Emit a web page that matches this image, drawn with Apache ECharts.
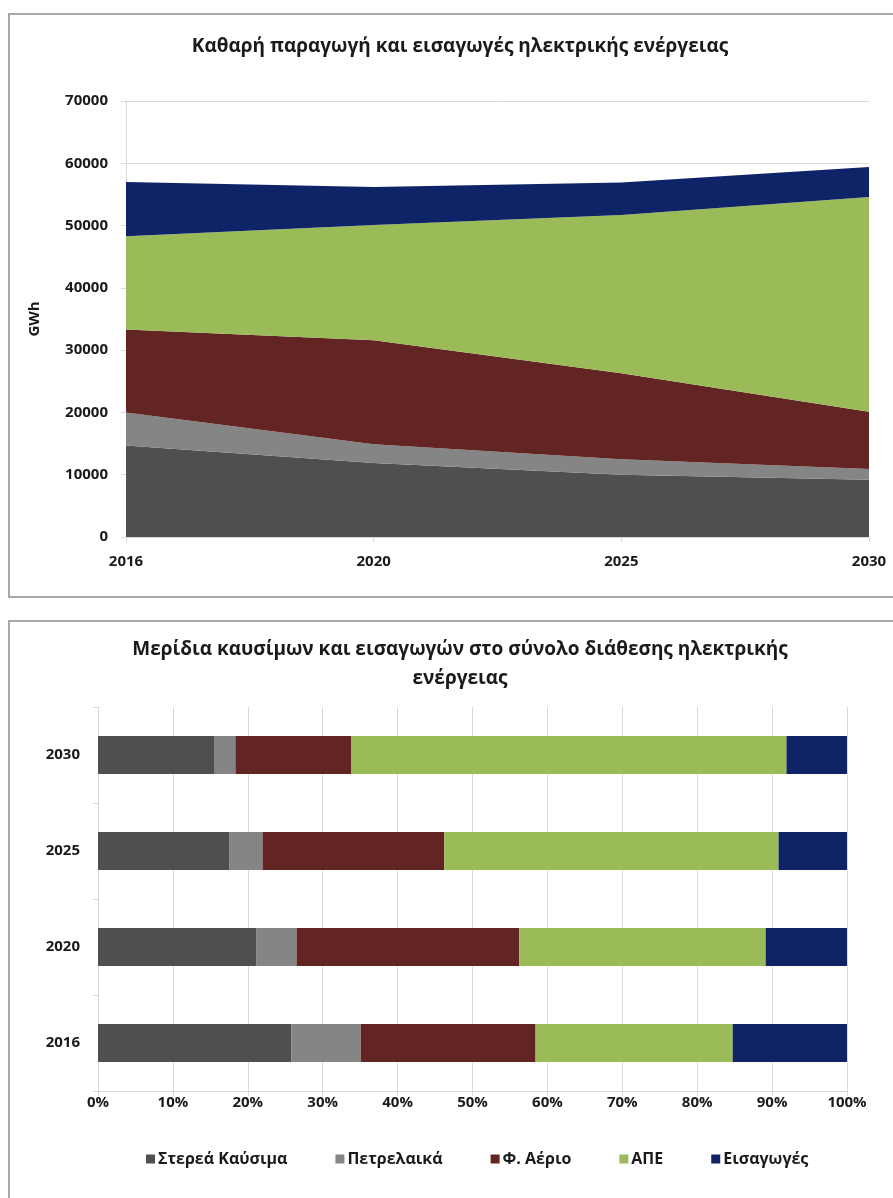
<!DOCTYPE html>
<html>
<head>
<meta charset="utf-8">
<script src="https://cdn.jsdelivr.net/npm/echarts@6/dist/echarts.min.js"></script>
<style>
    html, body { margin: 0; padding: 0; background: #fff; }
    #main { width: 893px; height: 1198px; }
</style>
</head>
<body>
<div id="main"></div>
<script>
// data (GWh)
var years = ['2016', '2020', '2025', '2030'];
var names = ['Στερεά Καύσιμα', 'Πετρελαικά', 'Φ. Αέριο', 'ΑΠΕ', 'Εισαγωγές'];
var solidFuels = [14700, 11900, 10000, 9200];
var oil = [5300, 3000, 2500, 1700];
var gas = [13300, 16700, 13800, 9200];
var renewables = [15000, 18500, 25400, 34500];
var imports = [8700, 6100, 5200, 4800];
var yTicks = [0, 10000, 20000, 30000, 40000, 50000, 60000, 70000];

var colors = ['#4f4f4f', '#858585', '#632523', '#9bbb59', '#0e2466'];
var allSeries = [solidFuels, oil, gas, renewables, imports];
var fontName = 'Open Sans';

var totals = years.map(function (y, i) {
    var s = 0;
    allSeries.forEach(function (arr) { s += arr[i]; });
    return s;
});

var chart = echarts.init(document.getElementById('main'));

var series = [];
// area chart, top
allSeries.forEach(function (arr, k) {
    series.push({
        name: names[k],
        type: 'line',
        xAxisIndex: 0,
        yAxisIndex: 0,
        stack: 'gwh',
        showSymbol: false,
        lineStyle: { width: 0 },
        areaStyle: { color: colors[k], opacity: 1 },
        itemStyle: { color: colors[k] },
        data: arr
    });
});
// 100% bar chart, bottom
allSeries.forEach(function (arr, k) {
    series.push({
        name: names[k],
        type: 'bar',
        xAxisIndex: 1,
        yAxisIndex: 1,
        stack: 'share',
        barWidth: 38,
        itemStyle: { color: colors[k] },
        data: arr.map(function (v, i) { return v / totals[i]; })
    });
});

var labelStyle = { color: '#1a1a1a', fontWeight: 'bold', fontFamily: fontName };

var option = {
    animation: false,
    backgroundColor: '#fff',
    graphic: [
        { type: 'rect', shape: { x: 9, y: 14, width: 900, height: 583 },
          style: { fill: 'none', stroke: '#a8a8a8', lineWidth: 2 } },
        { type: 'rect', shape: { x: 9, y: 621, width: 900, height: 600 },
          style: { fill: 'none', stroke: '#a8a8a8', lineWidth: 2 } }
    ],
    title: [
        {
            text: 'Καθαρή παραγωγή και εισαγωγές ηλεκτρικής ενέργειας',
            left: 455, top: 32, textAlign: 'center',
            textStyle: { fontSize: 19, fontWeight: 'bold', color: '#1a1a1a', fontFamily: fontName }
        },
        {
            text: 'Μερίδια καυσίμων και εισαγωγών στο σύνολο διάθεσης ηλεκτρικής\nενέργειας',
            left: 455, top: 630, textAlign: 'center',
            textStyle: { fontSize: 19, fontWeight: 'bold', color: '#1a1a1a', fontFamily: fontName, lineHeight: 29 }
        }
    ],
    legend: {
        data: names,
        bottom: 26,
        left: 141,
        itemWidth: 9,
        itemHeight: 9,
        itemGap: 48,
        icon: 'rect',
        textStyle: { fontSize: 16, fontWeight: 'bold', color: '#1a1a1a', fontFamily: fontName, padding: [0, 0, 0, -2] }
    },
    grid: [
        { left: 126, right: 24, top: 101, bottom: 661 },
        { left: 98, right: 46, top: 707, bottom: 107 }
    ],
    xAxis: [
        {
            gridIndex: 0,
            type: 'category',
            data: years,
            boundaryGap: false,
            axisLine: { lineStyle: { color: '#d9d9d9' } },
            axisTick: { show: true, length: 5, lineStyle: { color: '#d9d9d9' } },
            axisLabel: Object.assign({ fontSize: 15, margin: 17 }, labelStyle),
            splitLine: { show: false }
        },
        {
            gridIndex: 1,
            type: 'value',
            min: 0,
            max: 1,
            interval: 0.1,
            axisLine: { show: true, lineStyle: { color: '#d9d9d9' } },
            axisTick: { show: true, length: 5, lineStyle: { color: '#d9d9d9' } },
            axisLabel: Object.assign({
                fontSize: 15, margin: 4,
                formatter: function (v) { return Math.round(v * 100) + '%'; }
            }, labelStyle),
            splitLine: { show: true, lineStyle: { color: '#d9d9d9' } }
        }
    ],
    yAxis: [
        {
            gridIndex: 0,
            type: 'value',
            min: yTicks[0],
            max: yTicks[yTicks.length - 1],
            interval: 10000,
            name: 'GWh',
            nameLocation: 'middle',
            nameGap: 84,
            nameTextStyle: { fontSize: 15, fontWeight: 'bold', color: '#1a1a1a', fontFamily: fontName },
            axisLine: { show: true, lineStyle: { color: '#d9d9d9' } },
            axisTick: { show: true, length: 5, lineStyle: { color: '#d9d9d9' } },
            axisLabel: Object.assign({ fontSize: 15, margin: 18, formatter: function (v) { return String(v); } }, labelStyle),
            splitLine: { show: true, lineStyle: { color: '#d9d9d9' } }
        },
        {
            gridIndex: 1,
            type: 'category',
            data: years,
            axisLine: { show: true, lineStyle: { color: '#d9d9d9' } },
            axisTick: { show: true, length: 5, lineStyle: { color: '#d9d9d9' } },
            axisLabel: Object.assign({ fontSize: 15, margin: 18 }, labelStyle),
            splitLine: { show: false }
        }
    ],
    series: series
};

chart.setOption(option);
</script>
</body>
</html>
